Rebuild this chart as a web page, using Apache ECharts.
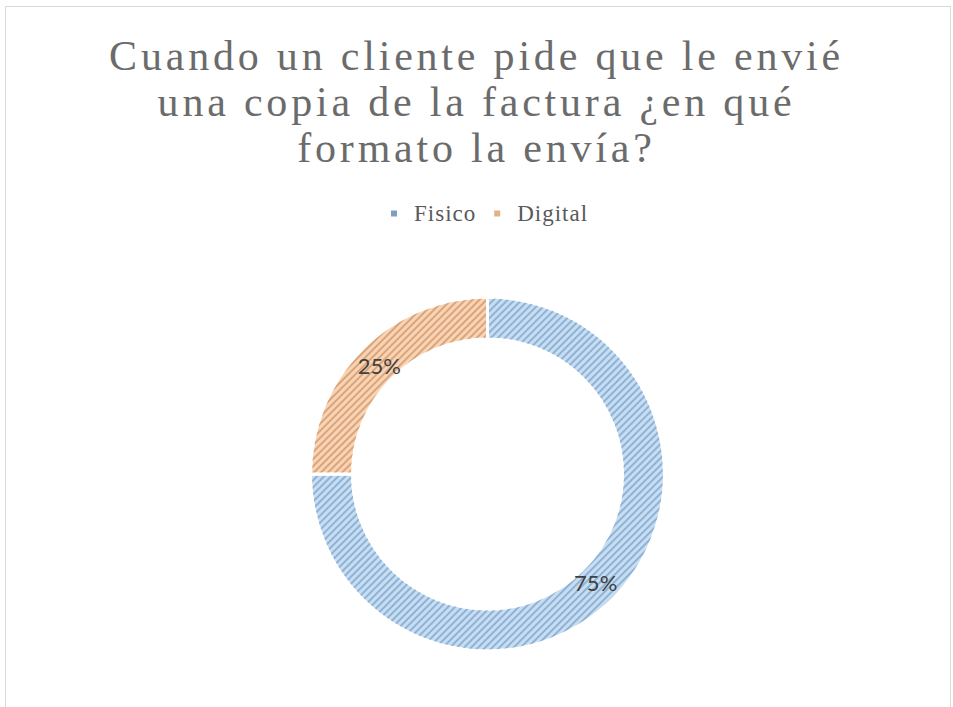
<!DOCTYPE html>
<html><head><meta charset="utf-8">
<script src="https://cdn.jsdelivr.net/npm/echarts@6/dist/echarts.min.js"></script>
<style>
html,body{margin:0;padding:0;background:#fff;}
#frame{position:absolute;left:5px;top:6px;width:946px;height:720px;border:1px solid #d9d9d9;box-sizing:border-box;}
#chart{position:absolute;left:0;top:0;width:953px;height:707px;}
</style></head>
<body>
<div id="frame"></div>
<div id="chart"></div>
<script>
const titleLines = ['Cuando un cliente pide que le envié', 'una copia de la factura ¿en qué', 'formato la envía?'];
const categories = ['Fisico', 'Digital'];
const values = [75, 25];
const fillColors = ['#c9ddf1', '#f9d3b3'];
const hatchColors = ['#8db3d8', '#d9a67c'];
const legendColors = ['#7f9fc0', '#e0b287'];

const CX = 487.5, CY = 474;
const chart = echarts.init(document.getElementById('chart'), null, {renderer: 'svg'});
const option = {
  animation: false,
  title: {
    text: titleLines.join('\n'),
    left: 'center',
    top: 28,
    textStyle: {fontFamily: '"Liberation Serif", "Times New Roman", serif', fontSize: 42, fontWeight: 'normal', color: '#6b6b6b', lineHeight: 46}
  },
  legend: {
    top: 197,
    left: 386,
    itemWidth: 6,
    itemHeight: 6,
    itemGap: 24,
    icon: 'rect',
    textStyle: {fontFamily: '"Liberation Serif", "Times New Roman", serif', fontSize: 23, color: '#595959', padding: [0, 0, 0, 12]},
    data: categories.map((c, i) => ({name: c, itemStyle: {color: legendColors[i], decal: 'none', borderWidth: 0}}))
  },
  series: [{
    type: 'pie',
    center: [CX, CY],
    radius: [135, 177],
    startAngle: 90,
    clockwise: true,
    label: {show: true, position: 'inside', formatter: '{d}%', fontFamily: 'Lato, "Open Sans", sans-serif', fontSize: 22, color: '#404040', textBorderWidth: 0},
    labelLine: {show: false},
    labelLayout: function (p) {
      const r = p.labelRect;
      const x = r.x + r.width / 2 - CX, y = r.y + r.height / 2 - CY;
      const d = Math.sqrt(x * x + y * y) || 1;
      return {dx: -x / d * 6, dy: -y / d * 6};
    },
    emphasis: {disabled: true},
    itemStyle: {borderColor: '#ffffff', borderWidth: 3},
    data: categories.map((c, i) => ({
      name: c, value: values[i],
      itemStyle: {color: fillColors[i], decal: {symbol: 'rect', symbolSize: 1, dashArrayX: [1, 0], dashArrayY: [2, 3], rotation: -Math.PI / 4, color: hatchColors[i]}}
    }))
  }]
};
chart.setOption(option);
function spaceText(){
  chart.getDom().querySelectorAll('text').forEach(t => {
    const s = t.textContent;
    if (titleLines.indexOf(s) >= 0) t.style.letterSpacing = '3.8px';
    else if (categories.indexOf(s) >= 0) t.style.letterSpacing = '1px';
  });
}
chart.on('finished', spaceText);
spaceText();
setTimeout(spaceText, 50);
</script>
</body></html>
